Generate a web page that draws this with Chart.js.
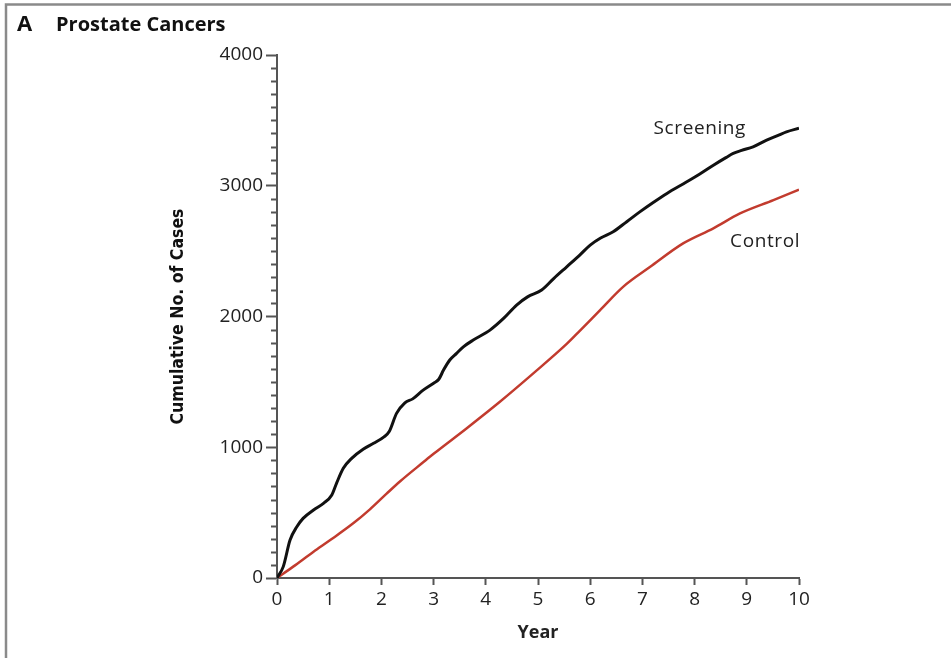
<!DOCTYPE html>
<html>
<head>
<meta charset="utf-8">
<script src="https://cdn.jsdelivr.net/npm/chart.js@4"></script>
<style>
  html, body { margin: 0; padding: 0; background: #fff; }
  #wrap { width: 951px; height: 658px; position: relative; }
</style>
</head>
<body>
<div id="wrap"><canvas id="prostate_chart"></canvas></div>
<script>
// values (years since randomisation, cumulative cases)
const screeningYears = [0, 0.12, 0.25, 0.38, 0.5, 0.7, 0.89, 1.05, 1.14, 1.27,
  1.43, 1.65, 1.85, 2.05, 2.15, 2.29, 2.45, 2.6, 2.8, 3.0,
  3.1, 3.19, 3.31, 3.44, 3.57, 3.76, 4.08, 4.34, 4.59, 4.8,
  5.07, 5.3, 5.55, 5.8, 6.0, 6.2, 6.44, 6.7, 6.95, 7.2,
  7.47, 7.85, 8.1, 8.36, 8.6, 8.74, 8.9, 9.12, 9.38, 9.6,
  9.76, 10];
const screeningCases = [0, 87, 290, 392, 456, 520, 571, 635, 724, 839,
  915, 985, 1030, 1080, 1120, 1259, 1340, 1370, 1437, 1490,
  1520, 1590, 1667, 1718, 1768, 1820, 1896, 1985, 2087, 2150,
  2202, 2290, 2380, 2470, 2546, 2600, 2648, 2725, 2800, 2870,
  2941, 3030, 3090, 3157, 3215, 3247, 3270, 3298, 3349, 3385,
  3412, 3440];

const controlYears = [0, 0.31, 0.7, 1.02, 1.46, 1.78, 2.1, 2.36, 2.8, 3.0,
  3.63, 4.27, 4.91, 5.55, 5.8, 6.19, 6.63, 7.15, 7.78,
  8.36, 8.87, 9.51, 10];
const controlCases = [0, 87, 201, 290, 418, 525, 645, 740, 885, 950,
  1144, 1348, 1565, 1790, 1890, 2049, 2227, 2380, 2559,
  2674, 2788, 2890, 2970];

const yearTicks = [0, 1, 2, 3, 4, 5, 6, 7, 8, 9, 10];
const caseTicks = [0, 1000, 2000, 3000, 4000];
const caseMinorStep = 100;

const seriesNames = ['Screening', 'Control'];
// where the series names sit, in data units (year, cases)
const nameSpots = [[8.1, 3440], [9.35, 2576]];

const el = document.getElementById('prostate_chart');
const axisGray = '#555';
const tickFont = { family: "'Open Sans', sans-serif", size: 19 };

function toPoints(xs, ys){
  return xs.map((x, i) => ({ x: x, y: ys[i] }));
}

const extras = {
  id: 'extras',
  beforeDraw(chart){
    const ctx = chart.ctx;
    ctx.save();
    ctx.fillStyle = '#fff';
    ctx.fillRect(0, 0, chart.width, chart.height);
    ctx.restore();
  },
  afterDraw(chart){
    const ctx = chart.ctx;
    const xs = chart.scales.x, ys = chart.scales.y;
    ctx.save();

    // frame like the journal panel
    ctx.strokeStyle = '#8a8a8a';
    ctx.lineWidth = 2.5;
    ctx.beginPath();
    ctx.moveTo(6, chart.height);
    ctx.lineTo(6, 4.5);
    ctx.lineTo(chart.width, 4.5);
    ctx.stroke();

    // panel title
    ctx.fillStyle = '#111';
    ctx.textBaseline = 'middle';
    ctx.textAlign = 'left';
    ctx.font = "bold 22px 'Open Sans', sans-serif";
    ctx.fillText('A', 17, 25);
    ctx.font = "bold 20px 'Open Sans', sans-serif";
    ctx.fillText('Prostate Cancers', 56, 25);

    // minor ticks on the case axis
    ctx.strokeStyle = axisGray;
    ctx.lineWidth = 2;
    for(let v = caseMinorStep; v < ys.max; v += caseMinorStep){
      if(v % 1000 === 0) continue;
      const py = Math.round(ys.getPixelForValue(v)) + 0.5;
      ctx.beginPath();
      ctx.moveTo(xs.left - 6, py);
      ctx.lineTo(xs.left, py);
      ctx.stroke();
    }

    // series names next to the curves
    ctx.fillStyle = '#222';
    ctx.font = "19px 'Open Sans', sans-serif";
    ctx.letterSpacing = '0.6px';
    ctx.textAlign = 'center';
    seriesNames.forEach((name, i) => {
      ctx.fillText(name, xs.getPixelForValue(nameSpots[i][0]), ys.getPixelForValue(nameSpots[i][1]));
    });
    ctx.restore();
  }
};

const data = {
  datasets: [
    {
      label: seriesNames[0],
      data: toPoints(screeningYears, screeningCases),
      borderColor: '#111',
      borderWidth: 3,
      pointRadius: 0,
      cubicInterpolationMode: 'monotone',
      fill: false
    },
    {
      label: seriesNames[1],
      data: toPoints(controlYears, controlCases),
      borderColor: '#c23b2e',
      borderWidth: 2.5,
      pointRadius: 0,
      cubicInterpolationMode: 'monotone',
      fill: false
    }
  ]
};

const config = {
  type: 'line',
  data: data,
  options: {
    responsive: true,
    maintainAspectRatio: false,
    animation: false,
    devicePixelRatio: 1,
    layout: {
      padding: { left: 0, right: 152, top: 55, bottom: 0 }
    },
    scales: {
      x: {
        type: 'linear',
        min: 0,
        max: 10,
        afterFit(scale){ scale.height = 80; },
        afterBuildTicks(scale){ scale.ticks = yearTicks.map(v => ({ value: v })); },
        grid: { drawOnChartArea: false, tickLength: 7, tickWidth: 2, color: axisGray },
        border: { color: axisGray, width: 2 },
        ticks: { color: '#222', font: tickFont, padding: 3, maxRotation: 0,
          callback: v => String(v) },
        title: {
          display: true,
          text: 'Year',
          color: '#222',
          font: { family: "'Open Sans', sans-serif", size: 18, weight: 'bold' },
          padding: { top: 0, bottom: 14 }
        }
      },
      y: {
        min: 0,
        max: 4000,
        afterFit(scale){ scale.width = 277; },
        afterBuildTicks(scale){ scale.ticks = caseTicks.map(v => ({ value: v })); },
        grid: { drawOnChartArea: false, tickLength: 11, tickWidth: 2, color: axisGray },
        border: { color: axisGray, width: 2 },
        ticks: { color: '#222', font: tickFont, padding: 3,
          callback: v => String(v) },
        title: {
          display: true,
          text: 'Cumulative No. of Cases',
          color: '#111',
          font: { family: "'Liberation Sans Narrow', 'DejaVu Sans Condensed', sans-serif", size: 17.5, weight: '600' },
          padding: { top: 168, bottom: 0 }
        }
      }
    },
    plugins: {
      legend: { display: false },
      title: { display: false },
      tooltip: { enabled: false }
    }
  },
  plugins: [extras]
};

new Chart(el, config);
</script>
</body>
</html>
